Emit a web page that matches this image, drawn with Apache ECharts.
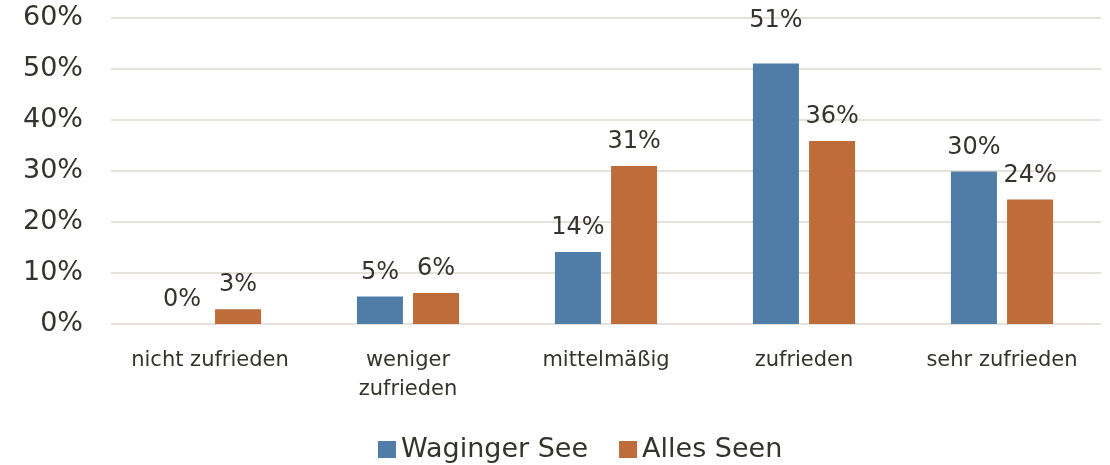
<!DOCTYPE html>
<html>
<head>
<meta charset="utf-8">
<script src="https://cdn.jsdelivr.net/npm/echarts@6/dist/echarts.min.js"></script>
<style>
  html, body { margin: 0; padding: 0; background: #fff; }
  #chart { width: 1110px; height: 465px; }
</style>
</head>
<body>
<div id="chart"></div>
<script>
var categories = ['nicht zufrieden', 'weniger\nzufrieden', 'mittelmäßig', 'zufrieden', 'sehr zufrieden'];
var waginger = [0, 5.4, 14.1, 51.1, 29.9];
var alleSeen = [2.9, 6.1, 31, 35.9, 24.4];
var yTicks = [0, 10, 20, 30, 40, 50, 60];

var font = 'DejaVu Sans';
var txt = '#34332c';

function pct(p){
    return Math.round(p.value) + '%';
}

var barLabel = { show: true, position: 'top', distance: 12, fontFamily: font, fontSize: 24, color: txt, formatter: pct };

// the 51% label sits higher in the original
var wagingerData = waginger.map(function(v, i){
    if (i === 3)
        return { value: v, label: { offset: [0, -19] } };
    return v;
});

var chart = echarts.init(document.getElementById('chart'));
chart.setOption({
    animation: false,
    textStyle: { fontFamily: font, color: txt },
    grid: { left: 111, right: 9, top: 18, bottom: 141 },
    legend: {
        data: ['Waginger See', 'Alles Seen'],
        left: 373,
        top: 431,
        icon: 'rect',
        itemWidth: 18,
        itemHeight: 17,
        itemGap: 31,
        textStyle: { fontFamily: font, fontSize: 27, color: txt }
    },
    xAxis: {
        type: 'category',
        data: categories,
        axisLine: { show: false },
        axisTick: { show: false },
        axisLabel: { fontFamily: font, fontSize: 21, color: txt, margin: 22, lineHeight: 29, interval: 0 }
    },
    yAxis: {
        type: 'value',
        min: yTicks[0],
        max: yTicks[yTicks.length - 1],
        interval: 10,
        axisLine: { show: false },
        axisTick: { show: false },
        splitLine: { lineStyle: { color: '#e5e2da', width: 2 } },
        axisLabel: { fontFamily: font, fontSize: 27, color: txt, margin: 28, formatter: '{value}%' }
    },
    series: [
        {
            name: 'Waginger See',
            type: 'bar',
            data: wagingerData,
            barWidth: 46,
            barGap: '22%',
            itemStyle: { color: '#507ca8' },
            label: barLabel
        },
        {
            name: 'Alles Seen',
            type: 'bar',
            data: alleSeen,
            barWidth: 46,
            itemStyle: { color: '#bf6c3b' },
            label: barLabel
        }
    ]
});
</script>
</body>
</html>
